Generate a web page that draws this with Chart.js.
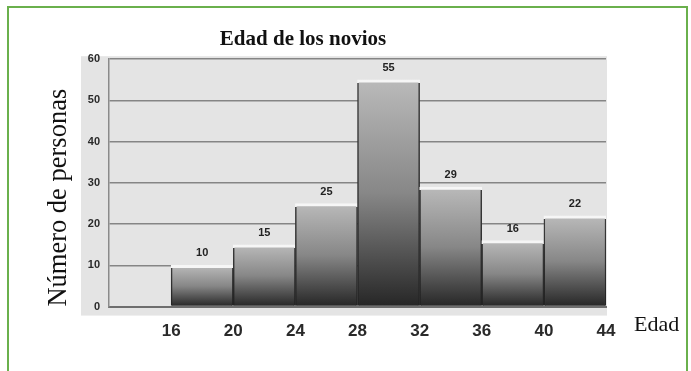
<!DOCTYPE html>
<html>
<head>
<meta charset="utf-8">
<script src="https://cdn.jsdelivr.net/npm/chart.js@4.4.1/dist/chart.umd.min.js"></script>
<style>
  html, body { margin: 0; padding: 0; background: #fff; overflow: hidden; }
  #frame {
    position: absolute; left: 7px; top: 6px; width: 681px; height: 400px;
    border: 2px solid #6ab04c; border-bottom: none; box-sizing: border-box;
  }
  #wrap { position: absolute; left: 0; top: 0; width: 691px; height: 371px; }
</style>
</head>
<body>
<div id="frame"></div>
<div id="wrap"><canvas id="chart" width="691" height="371"></canvas></div>
<script>
// ── Data ──
const classMids  = [18, 22, 26, 30, 34, 38, 42];
const counts     = [10, 15, 25, 55, 29, 16, 22];
const edgeTicks  = [16, 20, 24, 28, 32, 36, 40, 44];
const yTicks     = [0, 10, 20, 30, 40, 50, 60];

const points = classMids.map((m, i) => ({ x: m, y: counts[i] }));

function barGradient(ctx, stops) {
  const chart = ctx.chart;
  if (!chart.chartArea) return "#888";
  const ys   = chart.scales.y;
  const top  = ys.getPixelForValue(ctx.raw.y);
  const base = ys.getPixelForValue(0);
  const g = chart.ctx.createLinearGradient(0, top, 0, base);
  stops(g, base - top);
  return g;
}

// ── Plugins ──
const plotBg = {
  id: "plotBg",
  beforeDraw(chart) {
    const { ctx, chartArea: a } = chart;
    ctx.save();
    ctx.fillStyle = "#e4e4e4";
    ctx.fillRect(a.left - 28, a.top - 3, a.right - a.left + 29, a.bottom - a.top + 12);
    ctx.restore();
  },
};

const valueLabels = {
  id: "valueLabels",
  afterDatasetsDraw(chart) {
    const { ctx } = chart;
    const meta = chart.getDatasetMeta(0);
    ctx.save();
    ctx.font = "bold 11px 'Liberation Sans', Arial, sans-serif";
    ctx.fillStyle = "#222";
    ctx.textAlign = "center";
    ctx.textBaseline = "middle";
    meta.data.forEach((bar, i) => ctx.fillText(String(counts[i]), bar.x, bar.y - 12));
    ctx.restore();
  },
};

const xName = {
  id: "xName",
  afterDraw(chart) {
    const { ctx, chartArea: a } = chart;
    ctx.save();
    ctx.font = "22px 'Liberation Serif', 'Times New Roman', serif";
    ctx.fillStyle = "#111";
    ctx.textAlign = "left";
    ctx.textBaseline = "middle";
    ctx.fillText("Edad", a.right + 28, a.bottom + 19);
    ctx.restore();
  },
};

new Chart(document.getElementById("chart"), {
  type: "bar",
  data: {
    datasets: [{
      data: points,
      barPercentage: 1,
      categoryPercentage: 1,
      backgroundColor: ctx => barGradient(ctx, (g) => {
        g.addColorStop(0, "#bababa");
        g.addColorStop(0.5, "#878787");
        g.addColorStop(1, "#262626");
      }),
      borderColor: ctx => barGradient(ctx, (g, h) => {
        const t = Math.min(0.3, 3 / h);
        g.addColorStop(0, "#f6f6f6");
        g.addColorStop(t, "#f6f6f6");
        g.addColorStop(Math.min(1, t + 0.001), "#3a3a3a");
        g.addColorStop(1, "#222");
      }),
      borderWidth: { top: 3, left: 1.5, right: 1.5, bottom: 0 },
      borderSkipped: "bottom",
    }],
  },
  options: {
    responsive: false,
    animation: false,
    layout: { padding: { top: 0, right: 85, bottom: 22, left: 0 } },
    plugins: {
      legend: { display: false },
      tooltip: { enabled: false },
      title: {
        display: true,
        text: "Edad de los novios",
        color: "#111",
        font: { family: "'Liberation Serif', 'Times New Roman', serif", size: 21, weight: "bold" },
        padding: { top: 27, bottom: 7 },
      },
    },
    scales: {
      x: {
        type: "linear",
        offset: false,
        min: 12, max: 44,
        afterBuildTicks: s => { s.ticks = [12].concat(edgeTicks).map(v => ({ value: v })); },
        ticks: {
          padding: 7,
          color: "#2a2a2a",
          font: { family: "'Liberation Sans', Arial, sans-serif", size: 17, weight: "bold" },
          callback: v => (v === 12 ? "" : String(v)),
          maxRotation: 0, autoSkip: false,
        },
        grid: { display: false },
        border: { display: true, color: "#6e6e6e", width: 2 },
      },
      y: {
        min: 0, max: 60,
        afterBuildTicks: s => { s.ticks = yTicks.map(v => ({ value: v })); },
        afterFit: s => { s.width = 109; },
        ticks: {
          padding: 9,
          color: "#2a2a2a",
          font: { family: "'Liberation Sans', Arial, sans-serif", size: 11, weight: "bold" },
        },
        grid: { color: "#858585", lineWidth: 1.6, drawTicks: false },
        border: { display: true, color: "#8a8a8a", width: 1.5 },
        title: {
          display: true,
          text: "Número de personas",
          align: "start",
          color: "#111",
          font: { family: "'Liberation Serif', 'Times New Roman', serif", size: 26.5 },
          padding: { top: 43, bottom: 0 },
        },
      },
    },
  },
  plugins: [plotBg, valueLabels, xName],
});
</script>
</body>
</html>
